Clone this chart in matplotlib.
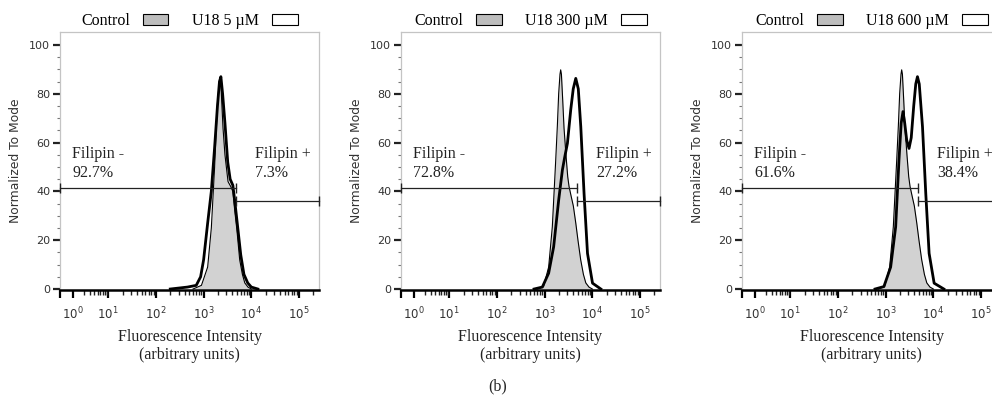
import matplotlib
matplotlib.use("Agg")
import matplotlib.pyplot as plt
import numpy as np
from matplotlib.patches import Patch

# treatment labels and gate percentages per panel
treatments = ["U18 5 µM", "U18 300 µM", "U18 600 µM"]
filipin_neg = ["92.7%", "72.8%", "61.6%"]
filipin_pos = ["7.3%", "27.2%", "38.4%"]

# control histogram (panel 1 and panels 2/3)
control_p1_x = [600, 900, 1215, 1450, 1700, 1950, 2150, 2300, 2550, 2800, 3250,
                3700, 4100, 4500, 5000, 5700, 6500, 7300, 8500, 10000]
control_p1_y = [0, 1.5, 9, 25, 50, 76, 85.5, 84, 66, 55, 44,
                42, 40, 32, 24, 12, 6, 2.5, 0.8, 0]
control_x = [700, 950, 1215, 1450, 1700, 1850, 1970, 2100, 2170, 2250, 2400,
             2550, 2800, 3050, 3250, 3600, 4000, 4500, 5000, 5700, 6500, 7300,
             8500, 10000]
control_y = [0, 1, 9, 25.5, 52, 67, 80, 88, 89.8, 88, 77,
             66, 55, 46, 42, 38, 34, 27, 20, 12, 6, 2.5,
             0.8, 0]

# treated histograms
u18_5_x = [200, 460, 700, 865, 1000, 1215, 1450, 1700, 1950, 2150, 2300, 2500,
           2800, 3200, 3600, 4100, 4500, 5000, 6000, 7000, 8400, 10000, 13700]
u18_5_y = [0, 0.8, 1.5, 5, 12, 27, 40, 58, 75, 85, 87, 80,
           68, 52, 45, 42.5, 36, 28, 14, 6, 2.5, 0.8, 0]
u18_300_x = [600, 895, 1215, 1546, 1972, 2359, 2636, 3006, 3525, 3980, 4498,
             5080, 5728, 6716, 7921, 10090, 15100]
u18_300_y = [0, 0.8, 6.5, 17.3, 36.5, 48.8, 54, 59.7, 73.4, 82, 86.3,
             82, 66.5, 39, 14.6, 2.4, 0]
u18_600_x = [600, 920, 1275, 1624, 1906, 2120, 2313, 2512, 2767, 3094, 3443,
             3882, 4285, 4650, 5070, 5928, 6950, 8161, 10400, 16640]
u18_600_y = [0, 1, 9, 25.5, 52.9, 68, 72.7, 68, 61, 57.6, 62,
             75, 84, 87, 84, 66.5, 39, 14.6, 2.4, 0]

gate_split = 4700
gate_neg_y = 41.5
gate_pos_y = 36

# biexponential-like display axis (decade -> display units)
knots_d = np.array([-1, 0, 1, 2, 3, 4, 5, 6])
knots_u = np.array([0, 13, 48, 95.5, 143, 190.5, 238, 285.5])


def fwd(x):
    d = np.log10(np.clip(np.asarray(x, dtype=float), 1e-6, None))
    return np.interp(d, knots_d, knots_u)


def inv(u):
    return 10 ** np.interp(u, knots_u, knots_d)


serif = "Liberation Serif"
sans = "DejaVu Sans"

fig = plt.figure(figsize=(9.92, 3.98), dpi=100)
W, H = 992, 398
lefts = [60, 401, 742]
ax_w, ax_top, ax_bot = 259, 32, 290

panels = [
    (control_p1_x, control_p1_y, u18_5_x, u18_5_y),
    (control_x, control_y, u18_300_x, u18_300_y),
    (control_x, control_y, u18_600_x, u18_600_y),
]

for i, (cx, cy, tx, ty) in enumerate(panels):
    ax = fig.add_axes([lefts[i] / W, (H - ax_bot) / H, ax_w / W, (ax_bot - ax_top) / H])
    ax.set_xscale("function", functions=(fwd, inv))
    ax.set_xlim(0.1, 262144)
    ax.set_ylim(-0.4, 105.3)

    ax.fill_between(cx, cy, 0, color="#d2d2d2", lw=0, zorder=2)
    ax.plot(cx, cy, color="black", lw=0.8, zorder=3)
    ax.plot(tx, ty, color="black", lw=2.0, zorder=4, solid_joinstyle="round")

    # gates
    ax.plot([0.1, gate_split], [gate_neg_y] * 2, color="#222222", lw=0.9,
            marker="|", ms=7, mew=1.0, zorder=5, clip_on=False)
    ax.plot([gate_split * 1.03, 262144], [gate_pos_y] * 2, color="#222222", lw=0.9,
            marker="|", ms=7, mew=1.0, zorder=5, clip_on=False)
    ax.text(0.85, 51.5, "Filipin -\n" + filipin_neg[i], family=serif, fontsize=11.5,
            color="#222222", va="center", ha="left", linespacing=1.2)
    ax.text(12000, 51.5, "Filipin +\n" + filipin_pos[i], family=serif, fontsize=11.5,
            color="#222222", va="center", ha="left", linespacing=1.2)

    # ticks
    majors = [0.1] + [10.0 ** k for k in range(6)]
    ax.set_xticks(majors)
    ax.set_xticklabels([""] + [r"$\mathregular{10^{%d}}$" % k for k in range(6)])
    minors = [m * 10.0 ** k for k in range(0, 6) for m in range(2, 10)]
    ax.set_xticks([v for v in minors if v < 262144], minor=True)
    ax.set_yticks(range(0, 101, 20))
    ax.set_yticks(range(0, 101, 5), minor=True)
    ax.tick_params(axis="x", which="major", length=6, width=1.6, color="black",
                   labelsize=8.5, labelcolor="#333333", pad=5)
    ax.tick_params(axis="x", which="minor", length=3.5, width=1.0, color="#222222")
    ax.tick_params(axis="y", which="major", length=5, width=1.6, color="#222222",
                   labelsize=8, labelcolor="#333333", pad=2)
    ax.tick_params(axis="y", which="minor", length=2.5, width=0.8, color="#777777")
    for lab in ax.get_xticklabels() + ax.get_yticklabels():
        lab.set_family(sans)

    for s in ["top", "right", "left"]:
        ax.spines[s].set_color("#c4c4c4")
        ax.spines[s].set_linewidth(0.9)
    ax.spines["bottom"].set_color("black")
    ax.spines["bottom"].set_linewidth(1.8)

    ax.text(-0.17, 0.5, "Normalized To Mode", transform=ax.transAxes, rotation=90,
            family=sans, fontsize=8.9, color="#333333", va="center", ha="center")
    ax.text(0.5, -0.217, "Fluorescence Intensity\n(arbitrary units)", transform=ax.transAxes,
            family=serif, fontsize=11.5, color="#222222", va="center", ha="center",
            linespacing=1.15)

    handles = [Patch(fc="#bdbdbd", ec="black", lw=0.8), Patch(fc="white", ec="black", lw=0.8)]
    ax.legend(handles, ["Control", treatments[i]], loc="lower center",
              bbox_to_anchor=(0.5, 0.985), ncol=2, frameon=False, markerfirst=False,
              handlelength=1.6, handleheight=0.7, handletextpad=0.8, columnspacing=1.5,
              borderaxespad=0.0, prop={"family": serif, "size": 11.5})

fig.text(498 / W, 1 - 386 / H, "(b)", family=serif, fontsize=11.5, color="#222222",
         ha="center", va="center")

fig.savefig("out.png", dpi=100)
